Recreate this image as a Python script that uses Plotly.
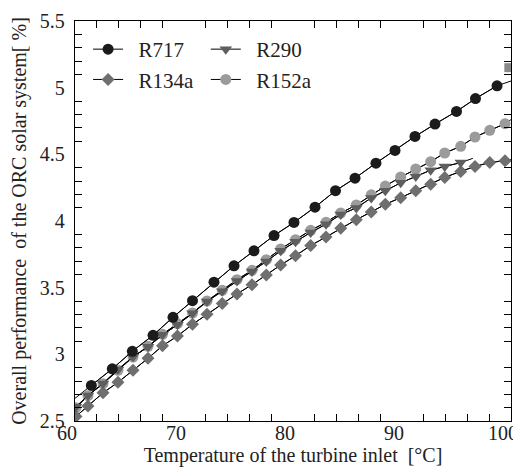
import plotly.graph_objects as go

# Temperature grid (degC)
T_R717 = [61.50, 63.42, 65.26, 67.16, 68.99, 70.78, 72.75, 74.59, 76.42, 78.26, 80.09,
          82.02, 83.90, 85.69, 87.61, 89.36, 91.19, 93.03, 95.00, 96.74, 98.72]
R717 = [2.767, 2.891, 3.023, 3.143, 3.278, 3.402, 3.541, 3.664, 3.776, 3.891, 3.989,
        4.104, 4.227, 4.321, 4.434, 4.529, 4.634, 4.727, 4.822, 4.918, 5.014]

T_GRID = [60.09, 61.19, 62.57, 63.94, 65.32, 66.70, 68.03, 69.40, 70.78, 72.11,
          73.51, 74.86, 76.24, 77.55, 78.87, 80.23, 81.62, 83.03, 84.38, 85.81,
          87.18, 88.47, 89.88, 91.26, 92.63, 93.92, 95.39, 96.70, 98.05, 99.45]

R134a = [2.534, 2.613, 2.711, 2.790, 2.880, 2.970, 3.064, 3.137, 3.225, 3.300,
         3.381, 3.453, 3.522, 3.595, 3.670, 3.739, 3.816, 3.880, 3.946, 4.010,
         4.068, 4.125, 4.175, 4.226, 4.276, 4.327, 4.372, 4.409, 4.439, 4.451]

T_R290 = T_GRID[:27]
R290 = [2.607, 2.692, 2.782, 2.887, 2.981, 3.056, 3.146, 3.221, 3.308, 3.396,
        3.474, 3.550, 3.621, 3.696, 3.776, 3.845, 3.914, 3.976, 4.049, 4.098,
        4.173, 4.227, 4.286, 4.334, 4.381, 4.409, 4.438]

R152a = [2.600, 2.690, 2.780, 2.880, 2.980, 3.060, 3.150, 3.230, 3.310, 3.400,
         3.480, 3.560, 3.630, 3.710, 3.790, 3.860, 3.930, 3.990, 4.060, 4.120,
         4.196, 4.262, 4.330, 4.390, 4.445, 4.510, 4.560, 4.630, 4.680, 4.730]

# fitted-curve ends that run out to the frame
R717_ENDS = (2.67, 5.05)
R134a_ENDS = (2.53, 4.46)
R290_ENDS = (2.60, 4.47)
R152a_ENDS = (2.59, 4.76)

STRAY_T = [99.8]
STRAY_V = [5.15]

FONT = "Liberation Serif, serif"
TXT = "#222"

series = [
    # name, T, values, ends, color, symbol, size, legend, rank
    ("R152a", T_GRID, R152a, R152a_ENDS, "#9b9b9b", "circle", 11, "legend2", 2),
    ("R134a", T_GRID, R134a, R134a_ENDS, "#6f6f6f", "diamond", 10, "legend", 2),
    ("R290", T_R290, R290, R290_ENDS, "#5e5e5e", "triangle-down", 11, "legend2", 1),
    ("R717", T_R717, R717, R717_ENDS, "#1c1a1a", "circle", 11, "legend", 1),
]

fig = go.Figure()

for name, t, v, ends, color, sym, size, leg, rank in series:
    last_t = 100 if name != "R290" else 96.5
    fig.add_trace(go.Scatter(
        x=[60] + list(t) + [last_t], y=[ends[0]] + list(v) + [ends[1]],
        mode="lines", line=dict(color="black", width=1),
        showlegend=False, hoverinfo="skip",
    ))

for name, t, v, ends, color, sym, size, leg, rank in series:
    fig.add_trace(go.Scatter(
        x=t, y=v, mode="lines+markers", name="\u2002" + name,
        line=dict(color="black", width=1),
        marker=dict(symbol=sym, size=size, color=color, line=dict(width=0)),
        legend=leg, legendrank=rank,
    ))

fig.add_trace(go.Scatter(
    x=STRAY_T, y=STRAY_V, mode="markers", showlegend=False,
    marker=dict(symbol="square", size=9, color="#8a8a8a"),
))

axis_common = dict(
    showline=True, linecolor="black", linewidth=1.3, mirror="ticks",
    ticks="", showgrid=False, zeroline=False, automargin=False,
)

fig.update_xaxes(
    range=[60, 100], dtick=10, tick0=60, ticklabelstandoff=-6, ticklabelshift=-8,
    tickfont=dict(family=FONT, size=20, color=TXT),
    minor=dict(dtick=2, ticks="inside", ticklen=7, tickcolor="black", showgrid=False),
    title=dict(text="Temperature of the turbine inlet  [°C]",
               font=dict(family=FONT, size=20, color=TXT), standoff=0),
    **axis_common,
)
fig.update_yaxes(
    range=[2.5, 5.5], dtick=0.5, tick0=2.5, ticklabelstandoff=5,
    tickfont=dict(family=FONT, size=20, color=TXT),
    minor=dict(dtick=0.1, ticks="inside", ticklen=7, tickcolor="black", showgrid=False),
    title=dict(text="Overall performance  of the ORC solar system[ %]",
               font=dict(family=FONT, size=20, color=TXT), standoff=8),
    **axis_common,
)

legend_style = dict(
    bgcolor="rgba(0,0,0,0)", font=dict(family=FONT, size=21, color=TXT),
    xanchor="left", yanchor="top", tracegroupgap=0, itemwidth=30,
)
fig.update_layout(
    width=521, height=469,
    margin=dict(l=67, r=18, t=13, b=56),
    paper_bgcolor="white", plot_bgcolor="white",
    legend=dict(x=0.03, y=0.98, **legend_style),
    legend2=dict(x=0.30, y=0.98, **legend_style),
)

fig.write_html("out.html")
